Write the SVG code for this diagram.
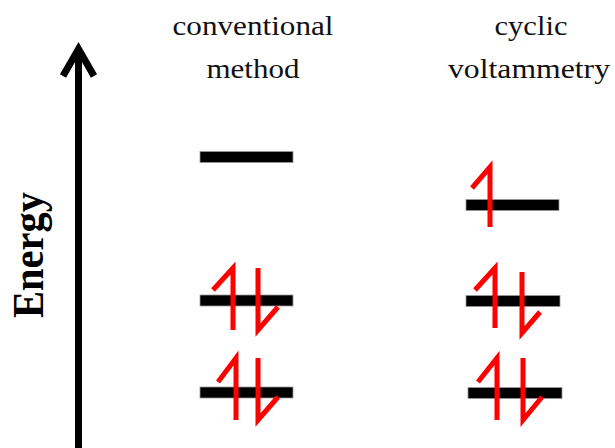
<svg xmlns="http://www.w3.org/2000/svg" width="615" height="448" viewBox="0 0 615 448">
  <style>
    .label { font-family: "Liberation Serif", "Times New Roman", serif; font-size: 28px; fill: #111; text-anchor: middle; }
    .axis-label { font-family: "Liberation Serif", "Times New Roman", serif; font-size: 40.5px; font-weight: bold; fill: #000; text-anchor: middle; }
    .level { fill: #000; stroke: #9a9a9a; stroke-width: 0.8; }
    .spin { fill: none; stroke: #ff0000; stroke-width: 5; stroke-linejoin: miter; stroke-linecap: butt; }
    .axis { fill: none; stroke: #000; stroke-width: 7; }
  </style>
  <rect width="615" height="448" fill="#fff"/>

  <!-- energy axis -->
  <g id="energy-axis">
    <line class="axis" x1="78.5" y1="50" x2="78.5" y2="448"/>
    <polyline class="axis" points="63,76 78.5,49 94,76" stroke-linejoin="miter"/>
    <text class="axis-label" transform="translate(43,255) scale(1.1,1) rotate(-90)">Energy</text>
  </g>

  <!-- column headings -->
  <g id="heading-conventional">
    <text class="label" x="253" y="35" textLength="161" lengthAdjust="spacingAndGlyphs">conventional</text>
    <text class="label" x="253" y="78" textLength="93" lengthAdjust="spacingAndGlyphs">method</text>
  </g>
  <g id="heading-cv">
    <text class="label" x="531" y="35" textLength="73" lengthAdjust="spacingAndGlyphs">cyclic</text>
    <text class="label" x="529" y="78" textLength="162" lengthAdjust="spacingAndGlyphs">voltammetry</text>
  </g>

  <!-- conventional method levels -->
  <g id="conv-level-top">
    <rect class="level" x="200" y="151.5" width="93" height="11"/>
  </g>
  <g id="conv-level-mid">
    <rect class="level" x="200" y="295" width="93" height="11"/>
    <path class="spin" d="M213,290 L233,268 L233,330"/>
    <path class="spin" d="M258,268 L258,330 L278,307"/>
  </g>
  <g id="conv-level-low">
    <rect class="level" x="200" y="387" width="93" height="11"/>
    <path class="spin" d="M218,382 L236,358 L236,420"/>
    <path class="spin" d="M258,358 L258,420 L278,397"/>
  </g>

  <!-- cyclic voltammetry levels -->
  <g id="cv-level-top">
    <rect class="level" x="466" y="199.5" width="93" height="11"/>
    <path class="spin" d="M472,188 L490,167 L490,227"/>
  </g>
  <g id="cv-level-mid">
    <rect class="level" x="466" y="295.5" width="94" height="11"/>
    <path class="spin" d="M475,290 L495,268 L495,328"/>
    <path class="spin" d="M522,272 L522,333 L540,312"/>
  </g>
  <g id="cv-level-low">
    <rect class="level" x="468" y="387.5" width="94" height="11"/>
    <path class="spin" d="M478,382 L497,358 L497,420"/>
    <path class="spin" d="M523,358 L523,420 L542,397"/>
  </g>
</svg>
